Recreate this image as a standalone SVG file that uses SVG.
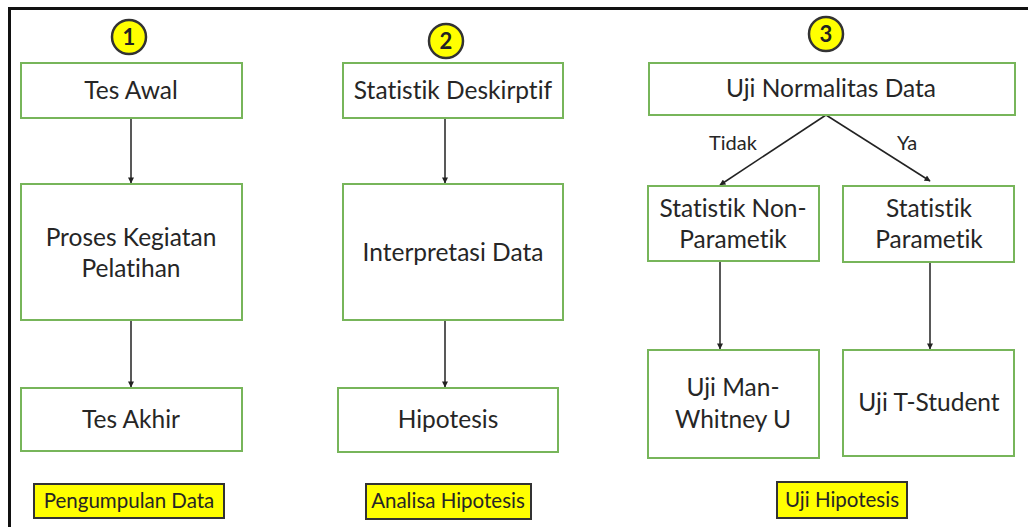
<svg xmlns="http://www.w3.org/2000/svg" width="1028" height="527" viewBox="0 0 1028 527">
<defs>
<style>
text{font-variant-ligatures:none;font-feature-settings:"liga" 0}
.box{fill:#fff;stroke:#77b55a;stroke-width:2}
.t{font-family:Lato,"Open Sans","Liberation Sans",sans-serif;font-size:24.5px;fill:#262626;text-anchor:middle}
.s{font-family:Lato,"Open Sans","Liberation Sans",sans-serif;font-size:20px;fill:#262626;text-anchor:middle}
.lab{fill:#ffff00;stroke:#333;stroke-width:2}
.lt{font-family:Lato,"Open Sans","Liberation Sans",sans-serif;font-size:20.5px;fill:#262626;text-anchor:middle}
.num{fill:#ffff00;stroke:#333;stroke-width:2.5}
.n{font-family:Lato,"Liberation Sans",sans-serif;font-size:22px;font-weight:bold;fill:#222;text-anchor:middle}
.c{stroke:#222;stroke-width:1.5;fill:none;marker-end:url(#ah)}
</style>
<marker id="ah" viewBox="0 0 10 10" refX="9" refY="5" markerWidth="7" markerHeight="6" orient="auto" markerUnits="userSpaceOnUse">
<path d="M0,0 L10,5 L0,10 z" fill="#222"/>
</marker>
</defs>
<rect width="1028" height="527" fill="#fff"/>
<path d="M9.5,540 V8.5 H1028" fill="none" stroke="#111" stroke-width="3"/>

<g id="connectors">
<line class="c" x1="131" y1="118" x2="131" y2="183"/>
<line class="c" x1="131" y1="320" x2="131" y2="387"/>
<line class="c" x1="445" y1="118" x2="445" y2="183"/>
<line class="c" x1="445" y1="320" x2="445" y2="387"/>
<line class="c" x1="826" y1="115" x2="720" y2="185"/>
<line class="c" x1="826" y1="115" x2="930" y2="181"/>
<line class="c" x1="720" y1="262" x2="720" y2="349"/>
<line class="c" x1="930" y1="262" x2="930" y2="349"/>
<text class="s" x="733" y="150">Tidak</text>
<text class="s" x="907" y="150">Ya</text>
</g>

<g id="num1"><circle class="num" cx="129" cy="37" r="17"/><text class="n" x="129" y="45">1</text></g>
<g id="num2"><circle class="num" cx="446" cy="41" r="17"/><text class="n" x="446" y="49">2</text></g>
<g id="num3"><circle class="num" cx="826" cy="34" r="17"/><text class="n" x="826" y="42">3</text></g>

<g id="tes-awal"><rect class="box" x="21" y="63" width="221" height="55"/><text class="t" x="131" y="99">Tes Awal</text></g>
<g id="proses"><rect class="box" x="21" y="184" width="221" height="136"/><text class="t" x="131" y="246">Proses Kegiatan</text><text class="t" x="131" y="277">Pelatihan</text></g>
<g id="tes-akhir"><rect class="box" x="21" y="388" width="221" height="63"/><text class="t" x="131" y="428">Tes Akhir</text></g>
<g id="pengumpulan"><rect class="lab" x="34" y="484" width="190" height="34"/><text class="lt" x="129" y="508">Pengumpulan Data</text></g>

<g id="statistik-deskriptif"><rect class="box" x="343" y="63" width="220" height="55"/><text class="t" x="453" y="99">Statistik Deskirptif</text></g>
<g id="interpretasi"><rect class="box" x="343" y="184" width="220" height="136"/><text class="t" x="453" y="261">Interpretasi Data</text></g>
<g id="hipotesis"><rect class="box" x="338" y="388" width="220" height="64"/><text class="t" x="448" y="428">Hipotesis</text></g>
<g id="analisa"><rect class="lab" x="366" y="484" width="165" height="35"/><text class="lt" x="448" y="508">Analisa Hipotesis</text></g>

<g id="uji-normalitas"><rect class="box" x="649" y="63" width="366" height="52"/><text class="t" x="831" y="97">Uji Normalitas Data</text></g>
<g id="non-parametik"><rect class="box" x="648" y="186" width="171" height="75"/><text class="t" x="733" y="217">Statistik Non-</text><text class="t" x="733" y="248">Parametik</text></g>
<g id="parametik"><rect class="box" x="843" y="186" width="171" height="76"/><text class="t" x="929" y="217">Statistik</text><text class="t" x="929" y="248">Parametik</text></g>
<g id="man-whitney"><rect class="box" x="648" y="350" width="171" height="108"/><text class="t" x="733" y="396">Uji Man-</text><text class="t" x="733" y="428">Whitney U</text></g>
<g id="t-student"><rect class="box" x="843" y="350" width="171" height="106"/><text class="t" x="929" y="411">Uji T-Student</text></g>
<g id="uji-hipotesis"><rect class="lab" x="777" y="482" width="130" height="36"/><text class="lt" x="842" y="507">Uji Hipotesis</text></g>
</svg>
